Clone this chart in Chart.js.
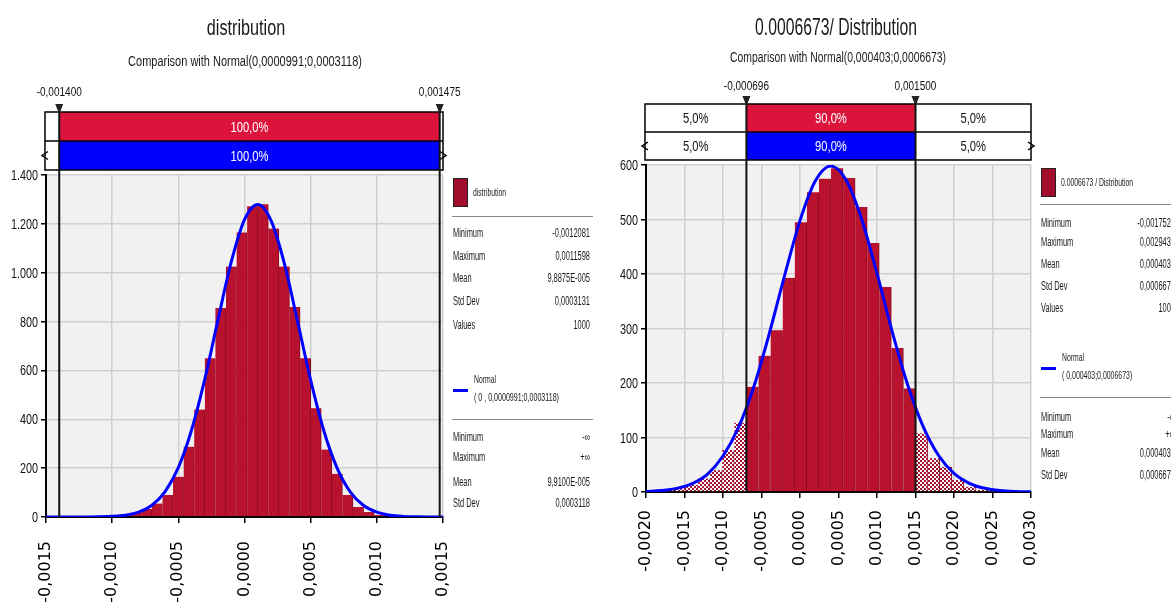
<!DOCTYPE html>
<html lang="en">
<head>
<meta charset="UTF-8" />
<title>distribution</title>
<script src="https://cdn.jsdelivr.net/npm/chart.js@4.4.1/dist/chart.umd.min.js"></script>
<style>
  body { margin: 0; background: #fff; width: 1171px; height: 613px; overflow: hidden; position: relative;
         font-family: "Liberation Sans", Arial, sans-serif; }
  canvas { position: absolute; top: 0; }
  #chartL { left: 0; }
  #chartR { left: 600px; }
  .t { position: absolute; white-space: nowrap; line-height: 1; color: #1a1a1a; }
  .rule { position: absolute; height: 0; border-top: 1.5px solid #8a8a8a; }
  .swatch { position: absolute; background: #a30d2c; border: 1.5px solid #222; box-sizing: border-box; }
  .nline { position: absolute; height: 3px; background: #0000ff; }
</style>
</head>
<body>
<canvas id="chartL" width="600" height="613"></canvas>
<canvas id="chartR" width="571" height="613"></canvas>

<script>
// ---- left chart: distribution vs Normal(0,0000991;0,0003118)
const leftBins = [-0.00122, -0.00114, -0.00106, -0.00098, -0.00090, -0.00082, -0.00074, -0.00066,
  -0.00058, -0.00050, -0.00042, -0.00034, -0.00026, -0.00018, -0.00010, -0.00002, 0.00006, 0.00014,
  0.00022, 0.00030, 0.00038, 0.00046, 0.00054, 0.00062, 0.00070, 0.00078, 0.00086, 0.00094,
  0.00102, 0.00110, 0.00118];
const leftDensity = [1, 1, 2, 4, 8, 17, 33, 55, 90, 165, 288, 440, 650, 856, 1025, 1165, 1272, 1280,
  1181, 1025, 860, 650, 445, 276, 177, 90, 41, 20, 8, 3, 1];
const leftNormX = [-0.0015, -0.0014, -0.0013, -0.0012, -0.0011, -0.0010, -0.0009, -0.0008, -0.0007,
  -0.0006, -0.0005, -0.0004, -0.0003, -0.0002, -0.0001, 0, 0.0001, 0.0002, 0.0003, 0.0004, 0.0005,
  0.0006, 0.0007, 0.0008, 0.0009, 0.0010, 0.0011, 0.0012, 0.0013, 0.0014, 0.0015];
const leftNormY = [0, 0, 0.05, 0.2, 0.8, 2.6, 7.5, 20, 48, 104, 202, 356, 564, 808, 1044, 1217, 1279,
  1214, 1040, 803, 560, 352, 200, 102, 47, 20, 7.4, 2.5, 0.8, 0.2, 0.05];
const leftMarkers = [-0.0014, 0.001475];
const leftMarkerLabels = ["-0,001400", "0,001475"];
const leftPct = ["", "100,0%", ""];
const leftStats = [["Minimum", "-0,0012081"], ["Maximum", "0,0011598"], ["Mean", "9,8875E-005"],
  ["Std Dev", "0,0003131"], ["Values", "1000"]];
const leftNormStats = [["Minimum", "-∞"], ["Maximum", "+∞"], ["Mean", "9,9100E-005"], ["Std Dev", "0,0003118"]];

// ---- right chart: 0.0006673 / Distribution vs Normal(0,000403;0,0006673)
const rightBins = [-0.001716, -0.001559, -0.001402, -0.001245, -0.001088, -0.000931, -0.000774,
  -0.000618, -0.000461, -0.000304, -0.000147, 0.000010, 0.000167, 0.000324, 0.000481, 0.000638,
  0.000795, 0.000951, 0.001108, 0.001265, 0.001422, 0.001579, 0.001736, 0.001893, 0.002050,
  0.002207, 0.002363, 0.002520, 0.002677, 0.002834];
const rightDensity = [4, 8, 13, 25, 40, 77, 127, 193, 250, 297, 393, 495, 550, 575, 594, 576, 523,
  457, 376, 264, 190, 108, 62, 46, 22, 9, 4, 2, 1, 1];
const rightNormX = [-0.0020, -0.0018, -0.0016, -0.0014, -0.0012, -0.0010, -0.0008, -0.0006, -0.0004,
  -0.0002, 0, 0.0002, 0.0004, 0.0006, 0.0008, 0.0010, 0.0012, 0.0014, 0.0016, 0.0018, 0.0020,
  0.0022, 0.0024, 0.0026, 0.0028, 0.0030];
const rightNormY = [0.9, 2.6, 6.6, 15.5, 33, 66, 118, 193, 290, 397, 498, 571, 598, 572, 501, 401,
  293, 196, 120, 67, 34, 16, 6.8, 2.6, 0.9, 0.3];
const rightMarkers = [-0.000696, 0.0015];
const rightMarkerLabels = ["-0,000696", "0,001500"];
const rightPct = ["5,0%", "90,0%", "5,0%"];
const rightStats = [["Minimum", "-0,0017524"], ["Maximum", "0,0029439"], ["Mean", "0,0004030"],
  ["Std Dev", "0,0006673"], ["Values", "1000"]];
const rightNormStats = [["Minimum", "-∞"], ["Maximum", "+∞"], ["Mean", "0,0004030"], ["Std Dev", "0,0006673"]];

const FONT = '"Liberation Sans", Arial, sans-serif';

// squeezed canvas text, the original uses a very narrow face
function condText(c, str, x, y, size, color, align, sx) {
  c.save();
  c.translate(x, y);
  c.scale(sx, 1);
  c.font = size + "px " + FONT;
  c.fillStyle = color;
  c.textAlign = align;
  c.fillText(str, 0, 0);
  c.restore();
}

function fmtX(v) {
  const r = Math.round(v * 10000) / 10000;
  return (r === 0 ? 0 : r).toFixed(4).replace(".", ",");
}

function fmtY(v) {
  if (v >= 1000) return Math.floor(v / 1000) + "." + String(v % 1000).padStart(3, "0");
  return String(v);
}

function hatchPattern() {
  const p = document.createElement("canvas");
  p.width = 4; p.height = 4;
  const g = p.getContext("2d");
  g.fillStyle = "#fff";
  g.fillRect(0, 0, 4, 4);
  g.fillStyle = "#a80f2c";
  for (let y = 0; y < 4; y++)
    for (let x = 0; x < 4; x++)
      if (((x >> 1) + (y >> 1)) % 2 === 0) g.fillRect(x, y, 1, 1);
  return g.createPattern(p, "repeat");
}

// plot background, range bars on top, marker lines, y labels
const headerPlugin = {
  id: "header",
  beforeDraw(chart) {
    const a = chart.chartArea, c = chart.ctx;
    c.save();
    c.fillStyle = "#f1f1f1";
    c.fillRect(a.left, a.top, a.right - a.left, a.bottom - a.top);
    c.restore();
  },
  afterDraw(chart, args, o) {
    const c = chart.ctx, a = chart.chartArea, xs = chart.scales.x, ys = chart.scales.y;
    const m = o.markers.map(v => xs.getPixelForValue(v));
    const L = a.left - 1, R = a.right, T = o.top, H = o.rowH;
    const cols = [L, m[0], m[1], R];
    c.save();
    for (let r = 0; r < 2; r++) {
      const y = T + r * H;
      for (let k = 0; k < 3; k++) {
        const x0 = cols[k], x1 = cols[k + 1];
        c.fillStyle = k === 1 ? (r === 0 ? "#dc143c" : "#0000ff") : "#fff";
        c.fillRect(x0, y, x1 - x0, H);
        if (o.pct[k]) condText(c, o.pct[k], (x0 + x1) / 2, y + H / 2 + 5, 14, k === 1 ? "#fff" : "#111", "center", 0.8);
      }
    }
    c.strokeStyle = "#000";
    c.lineWidth = 1.5;
    c.strokeRect(L, T, R - L, 2 * H);
    c.beginPath();
    c.moveTo(L, T + H); c.lineTo(R, T + H);
    // small arrow heads on the lower row ends
    const ay = T + 1.5 * H;
    c.moveTo(L + 3, ay - 4); c.lineTo(L - 3, ay); c.lineTo(L + 3, ay + 4);
    c.moveTo(R - 3, ay - 4); c.lineTo(R + 3, ay); c.lineTo(R - 3, ay + 4);
    c.stroke();

    m.forEach((x, i) => {
      c.strokeStyle = "#111";
      c.lineWidth = 2;
      c.beginPath();
      c.moveTo(x, T - 2); c.lineTo(x, a.bottom);
      c.stroke();
      c.fillStyle = "#222";
      c.beginPath();
      c.moveTo(x - 4, T - 8); c.lineTo(x + 4, T - 8); c.lineTo(x, T + 2);
      c.closePath();
      c.fill();
      condText(c, o.markerLabels[i], x, o.labelY, 13, "#111", "center", 0.77);
    });

    ys.ticks.forEach(t => {
      condText(c, fmtY(t.value), a.left - 8, ys.getPixelForValue(t.value) + 5, 15, "#111", "right", 0.72);
    });
    c.restore();
  }
};

function makeChart(id, bins, dens, nx, ny, cfg) {
  const pat = hatchPattern();
  const [lo, hi] = cfg.header.markers;
  return new Chart(document.getElementById(id), {
    type: "bar",
    data: {
      datasets: [
        {
          type: "line",
          data: nx.map((x, i) => ({ x: x, y: ny[i] })),
          borderColor: "#0000ff",
          borderWidth: 3,
          pointRadius: 0,
          cubicInterpolationMode: "monotone",
          order: 0
        },
        {
          type: "bar",
          data: bins.map((x, i) => ({ x: x, y: dens[i] })),
          backgroundColor: ctx => (ctx.raw && (ctx.raw.x < lo || ctx.raw.x > hi)) ? pat : "#b8122f",
          borderColor: "#8a0b22",
          borderWidth: { left: 0, right: 1, top: 0, bottom: 0 },
          barPercentage: 1,
          categoryPercentage: 1,
          order: 1
        }
      ]
    },
    options: {
      responsive: false,
      animation: false,
      layout: { padding: { top: cfg.padTop, right: cfg.padRight, left: 0, bottom: 0 } },
      plugins: { legend: { display: false }, tooltip: { enabled: false }, header: cfg.header },
      scales: {
        x: {
          type: "linear",
          offset: false,
          min: cfg.xMin,
          max: cfg.xMax,
          afterFit: s => { s.height = cfg.axisH; },
          grid: { offset: false, color: "#cfcfcf", lineWidth: 1.5, tickColor: "#000", tickLength: 6, tickWidth: 1.5 },
          border: { color: "#000", width: 2 },
          ticks: {
            stepSize: 0.0005, minRotation: 90, maxRotation: 90, autoSkip: false,
            padding: cfg.tickPad, color: "#000",
            font: { family: "DejaVu Sans", size: 16 },
            callback: fmtX
          }
        },
        y: {
          min: 0,
          max: cfg.yMax,
          afterFit: s => { s.width = 46; },
          grid: { color: "#cfcfcf", lineWidth: 1.5, tickColor: "#000", tickLength: 5, tickWidth: 1.5 },
          border: { color: "#000", width: 2 },
          ticks: { stepSize: cfg.yStep, display: false }
        }
      }
    },
    plugins: [headerPlugin]
  });
}

makeChart("chartL", leftBins, leftDensity, leftNormX, leftNormY, {
  xMin: -0.0015, xMax: 0.0015, yMax: 1400, yStep: 200,
  padTop: 175, padRight: 157, axisH: 96, tickPad: 18,
  header: { top: 112, rowH: 29, markers: leftMarkers, markerLabels: leftMarkerLabels, labelY: 96, pct: leftPct }
});

makeChart("chartR", rightBins, rightDensity, rightNormX, rightNormY, {
  xMin: -0.002, xMax: 0.003, yMax: 600, yStep: 100,
  padTop: 165, padRight: 140, axisH: 121, tickPad: 12,
  header: { top: 104, rowH: 28, markers: rightMarkers, markerLabels: rightMarkerLabels, labelY: 90, pct: rightPct }
});

// ---- html text: titles and the statistics panels
function put(text, x, base, size, align, opt) {
  const s = document.createElement("div");
  s.className = "t";
  s.textContent = text;
  s.style.fontSize = size + "px";
  if (opt.bold) s.style.fontWeight = "bold";
  document.body.appendChild(s);
  const w = s.offsetWidth;
  const sx = opt.w ? opt.w / w : (opt.sx || 1);
  s.style.top = (base - 0.85 * size) + "px";
  s.style.left = x + "px";
  const tx = align === "center" ? "-50%" : align === "right" ? "-100%" : "0";
  s.style.transformOrigin = (align === "center" ? "center" : align) + " top";
  s.style.transform = "translateX(" + tx + ") scaleX(" + sx + ")";
}

function box(cls, left, top, w, h) {
  const d = document.createElement("div");
  d.className = cls;
  d.style.left = left + "px";
  d.style.top = top + "px";
  d.style.width = w + "px";
  if (h) d.style.height = h + "px";
  document.body.appendChild(d);
}

put("distribution", 246, 36, 22, "center", { w: 78 });
put("Comparison with Normal(0,0000991;0,0003118)", 245, 66, 14, "center", { w: 234 });
put("0.0006673/ Distribution", 836, 35, 24, "center", { w: 162 });
put("Comparison with Normal(0,000403;0,0006673)", 838, 62, 14, "center", { w: 216 });

function panel(p) {
  box("swatch", p.x, p.swTop, 15, 29);
  put(p.name, p.x + 20, p.swTop + 18, 11, "left", { sx: 0.62 });
  box("rule", p.x - 1, p.rule1, p.ruleW);
  p.stats.forEach((r, i) => {
    put(r[0], p.x, p.rows1[i], 12, "left", { sx: 0.62 });
    put(r[1], p.valRight, p.rows1[i], 12, "right", { sx: 0.62 });
  });
  box("nline", p.x, p.lineTop, 15);
  put("Normal", p.x + 21, p.lineTop - 6, 11, "left", { sx: 0.62 });
  put(p.normName, p.x + 21, p.lineTop + 12, 11, "left", { w: p.normW });
  box("rule", p.x - 1, p.rule2, p.ruleW);
  p.normStats.forEach((r, i) => {
    put(r[0], p.x, p.rows2[i], 12, "left", { sx: 0.62 });
    put(r[1], p.valRight, p.rows2[i], 12, "right", { sx: 0.62 });
  });
}

panel({
  x: 453, swTop: 178, name: "distribution", rule1: 216, ruleW: 141, valRight: 590,
  stats: leftStats, rows1: [237, 260, 282, 305, 329],
  lineTop: 389, normName: "( 0 , 0,0000991;0,0003118)", normW: 85, rule2: 419,
  normStats: leftNormStats, rows2: [441, 461, 486, 507]
});

panel({
  x: 1041, swTop: 168, name: "0.0006673 / Distribution", rule1: 204, ruleW: 140, valRight: 1175,
  stats: rightStats, rows1: [227, 246, 268, 290, 312],
  lineTop: 367, normName: "( 0,000403;0,0006673)", normW: 70, rule2: 397,
  normStats: rightNormStats, rows2: [421, 438, 457, 479]
});
</script>
</body>
</html>
